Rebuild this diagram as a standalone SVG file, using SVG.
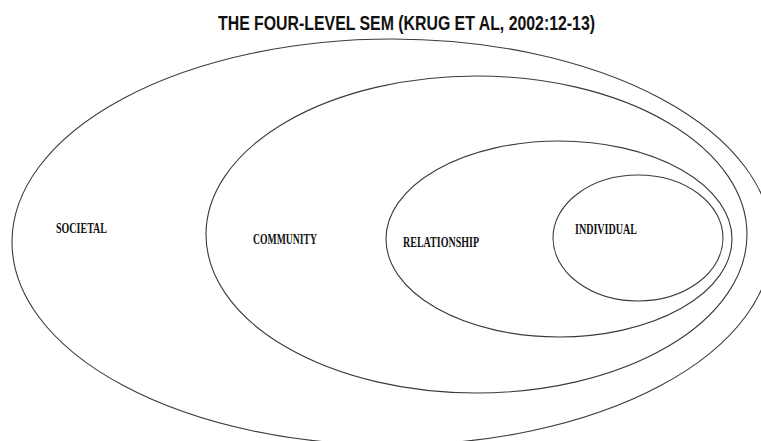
<svg xmlns="http://www.w3.org/2000/svg" width="761" height="441" viewBox="0 0 761 441">
  <style>
    .ring { fill: none; stroke: #3a3a3a; stroke-width: 1.1; }
    .lbl { font-family: "Liberation Serif", "Times New Roman", serif; font-weight: bold; font-size: 14px; fill: #111; }
    .title { font-family: "Liberation Sans", Arial, sans-serif; font-weight: bold; font-size: 20px; fill: #111; }
  </style>
  <rect width="761" height="441" fill="#ffffff"/>
  <text class="title" x="218" y="30" textLength="377" lengthAdjust="spacingAndGlyphs">THE FOUR-LEVEL SEM (KRUG ET AL, 2002:12-13)</text>

  <!-- nested levels, outermost first -->
  <g id="societal">
    <ellipse class="ring" cx="392" cy="242" rx="380" ry="203"/>
    <text class="lbl" x="56" y="233" textLength="51" lengthAdjust="spacingAndGlyphs">SOCIETAL</text>
  </g>
  <g id="community">
    <ellipse class="ring" cx="476.5" cy="234.5" rx="270.5" ry="158.5"/>
    <text class="lbl" x="253" y="244" textLength="64" lengthAdjust="spacingAndGlyphs">COMMUNITY</text>
  </g>
  <g id="relationship">
    <ellipse class="ring" cx="559" cy="239" rx="173" ry="98"/>
    <text class="lbl" x="403" y="247" textLength="76" lengthAdjust="spacingAndGlyphs">RELATIONSHIP</text>
  </g>
  <g id="individual">
    <ellipse class="ring" cx="638" cy="238" rx="85" ry="63"/>
    <text class="lbl" x="575" y="234" textLength="62" lengthAdjust="spacingAndGlyphs">INDIVIDUAL</text>
  </g>
  <g id="connectors"/>
</svg>
